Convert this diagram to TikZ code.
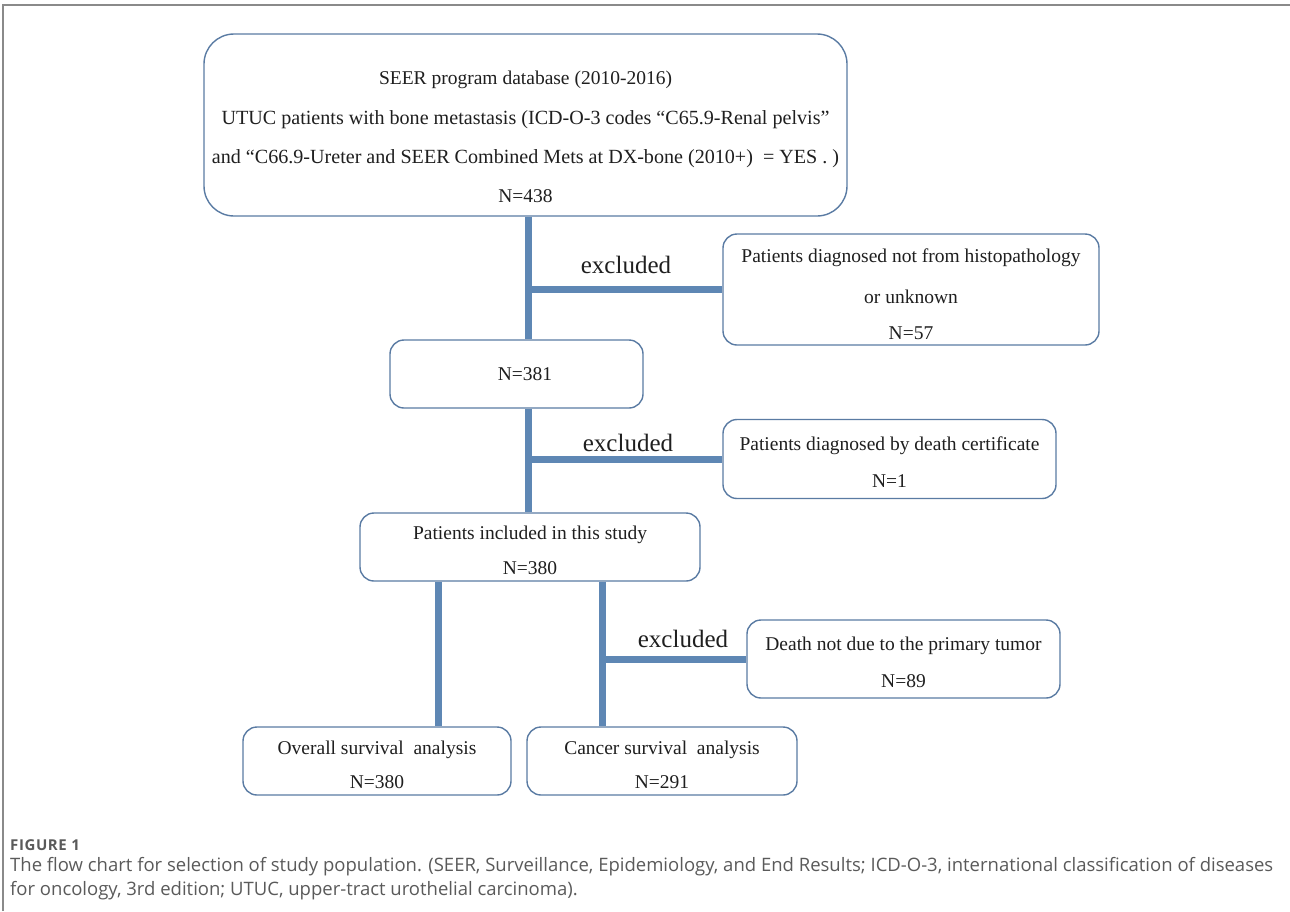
\documentclass[tikz,border=0pt]{standalone}
\usepackage{fontspec}
\setmainfont{Liberation Serif}
\newfontfamily\capfont{Open Sans}
\usetikzlibrary{calc}
\definecolor{conn}{HTML}{5E87B4}
\definecolor{boxline}{HTML}{5A7BA3}
\definecolor{framegray}{HTML}{8A8A8A}
\definecolor{captext}{HTML}{5A5A5A}
\tikzset{
  flowbox/.style={draw=boxline, line width=1.4pt, rounded corners=14pt, inner sep=0pt, fill=white},
  bigbox/.style={flowbox, rounded corners=30pt},
  txt/.style={inner sep=0pt, font=\fontsize{19.5}{22}\selectfont, text=black!88},
  wtxt/.style={inner sep=0pt, font=\fontsize{20.1}{22}\selectfont, text=black!88},
  exlabel/.style={inner sep=0pt, font=\fontsize{25}{28}\selectfont, text=black!88},
  link/.style={draw=conn, line width=7pt},
  capt/.style={inner sep=0pt, anchor=west, text=captext},
}
\begin{document}
\begin{tikzpicture}[x=1pt, y=-1pt]
\useasboundingbox (0,0) rectangle (1290,911);
% frame
\draw[framegray, line width=1.3pt] (3,911) -- (3,5) -- (1290,5);

% boxes
\node[bigbox, minimum width=643pt, minimum height=182pt] (top) at (525.5,125) {};
\node[flowbox, minimum width=376pt, minimum height=111pt] (ex1) at (911,289.5) {};
\node[flowbox, minimum width=253pt, minimum height=68pt] (n381) at (516.5,374) {};
\node[flowbox, minimum width=333pt, minimum height=79pt] (ex2) at (889.5,459) {};
\node[flowbox, minimum width=340pt, minimum height=68pt] (incl) at (530,547) {};
\node[flowbox, minimum width=313pt, minimum height=78pt] (ex3) at (903.5,659) {};
\node[flowbox, minimum width=268pt, minimum height=68pt] (os) at (377,761) {};
\node[flowbox, minimum width=270pt, minimum height=68pt] (cs) at (662,761) {};

% texts
\node[txt] (t1a) at (525.5,80) {SEER program database (2010-2016)};
\node[wtxt] (t1b) at (525.5,120) {UTUC patients with bone metastasis (ICD-O-3 codes “C65.9-Renal pelvis”};
\node[wtxt] (t1c) at (525.5,159) {and “C66.9-Ureter and SEER Combined Mets at DX-bone (2010+) \ = YES . )};
\node[txt] (t1d) at (525.5,196) {N=438};
\node[txt] (t2a) at (911,258) {Patients diagnosed not from histopathology};
\node[txt] (t2b) at (911,297) {or unknown};
\node[txt] (t2c) at (911,333) {N=57};
\node[txt] (t3) at (525,374) {N=381};
\node[txt] (t4a) at (889.5,446) {Patients diagnosed by death certificate};
\node[txt] (t4b) at (889.5,481) {N=1};
\node[txt] (t5a) at (530,535) {Patients included in this study};
\node[txt] (t5b) at (530,568) {N=380};
\node[txt] (t6a) at (903.5,646) {Death not due to the primary tumor};
\node[txt] (t6b) at (903.5,681) {N=89};
\node[txt] (t7a) at (377,750) {Overall survival\ \ analysis};
\node[txt] (t7b) at (377,782) {N=380};
\node[txt] (t8a) at (662,750) {Cancer survival\ \ analysis};
\node[txt] (t8b) at (662,782) {N=291};

% connectors
\coordinate (k1) at ([xshift=2.5pt]top.south);
\draw[link] (k1) -- (k1 |- n381.north);
\draw[link] (ex1.west -| k1) -- (ex1.west);
\coordinate (k2) at ([xshift=11.5pt]n381.south);
\draw[link] (k2) -- (k2 |- incl.north);
\draw[link] (ex2.west -| k2) -- (ex2.west);
\coordinate (k3) at (438,581);
\draw[link] (k3 |- incl.south) -- (k3 |- os.north);
\coordinate (k4) at (602,581);
\draw[link] (k4 |- incl.south) -- (k4 |- cs.north);
\draw[link] (ex3.west -| k4) -- (ex3.west);

% excluded labels
\node[exlabel] (e1) at (626,265) {excluded};
\node[exlabel] (e2) at (628,443) {excluded};
\node[exlabel] (e3) at (683,639) {excluded};

% caption
\node[capt, font=\capfont\bfseries\fontsize{15}{17}\selectfont\addfontfeature{LetterSpace=4}] (fig) at (10,845) {FIGURE 1};
\node[capt, font=\capfont\fontsize{18.5}{20}\selectfont] (c1) at (10,867) {The flow chart for selection of study population. (SEER, Surveillance, Epidemiology, and End Results; ICD-O-3, international classification of diseases};
\node[capt, font=\capfont\fontsize{18.5}{20}\selectfont] (c2) at (10,891) {for oncology, 3rd edition; UTUC, upper-tract urothelial carcinoma).};
\end{tikzpicture}
\end{document}
